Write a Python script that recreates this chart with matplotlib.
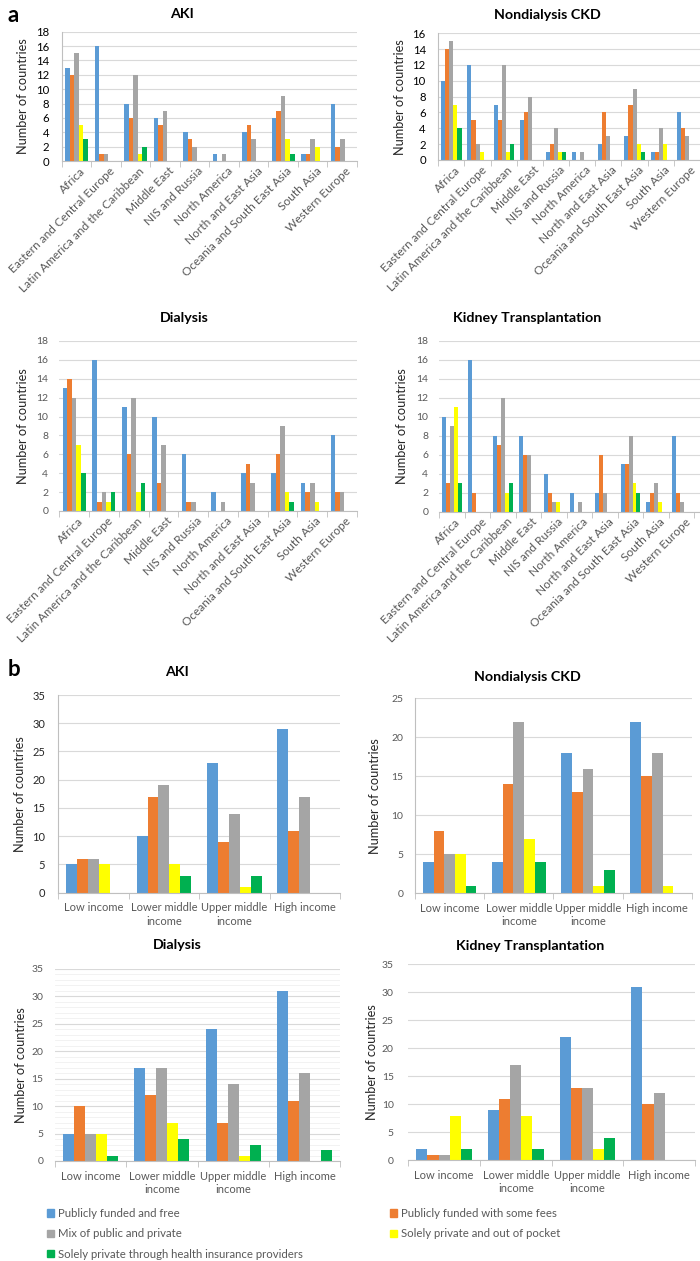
import numpy as np
import matplotlib.pyplot as plt
from matplotlib.patches import Patch
from matplotlib.ticker import MultipleLocator
from matplotlib.transforms import ScaledTranslation

plt.rcParams['font.family'] = ['Lato', 'DejaVu Sans']

W, H = 700, 1261

regions = ['Africa', 'Eastern and Central Europe', 'Latin America and the Caribbean', 'Middle East',
           'NIS and Russia', 'North America', 'North and East Asia', 'Oceania and South East Asia',
           'South Asia', 'Western Europe']
incomes = ['Low income', 'Lower middle\nincome', 'Upper middle\nincome', 'High income']
series = ['Publicly funded and free', 'Publicly funded with some fees', 'Mix of public and private',
          'Solely private and out of pocket', 'Solely private through health insurance providers']
colors = ['#5B9BD5', '#ED7D31', '#A5A5A5', '#FFFF00', '#00B050']

# one row per category: free, some fees, mix, out of pocket, insurance
aki_region = [[13, 12, 15, 5, 3], [16, 1, 1, 0, 0], [8, 6, 12, 1, 2], [6, 5, 7, 0, 0], [4, 3, 2, 0, 0],
              [1, 0, 1, 0, 0], [4, 5, 3, 0, 0], [6, 7, 9, 3, 1], [1, 1, 3, 2, 0], [8, 2, 3, 0, 0]]
ckd_region = [[10, 14, 15, 7, 4], [12, 5, 2, 1, 0], [7, 5, 12, 1, 2], [5, 6, 8, 0, 0], [1, 2, 4, 1, 1],
              [1, 0, 1, 0, 0], [2, 6, 3, 0, 0], [3, 7, 9, 2, 1], [1, 1, 4, 2, 0], [6, 4, 3, 0, 0]]
dial_region = [[13, 14, 12, 7, 4], [16, 1, 2, 1, 2], [11, 6, 12, 2, 3], [10, 3, 7, 0, 0], [6, 1, 1, 0, 0],
               [2, 0, 1, 0, 0], [4, 5, 3, 0, 0], [4, 6, 9, 2, 1], [3, 2, 3, 1, 0], [8, 2, 2, 0, 0]]
kt_region = [[10, 3, 9, 11, 3], [16, 2, 0, 0, 0], [8, 7, 12, 2, 3], [8, 6, 6, 0, 0], [4, 2, 1, 1, 0],
             [2, 0, 1, 0, 0], [2, 6, 2, 0, 0], [5, 5, 8, 3, 2], [1, 2, 3, 1, 0], [8, 2, 1, 0, 0]]

aki_income = [[5, 6, 6, 5, 0], [10, 17, 19, 5, 3], [23, 9, 14, 1, 3], [29, 11, 17, 0, 0]]
ckd_income = [[4, 8, 5, 5, 1], [4, 14, 22, 7, 4], [18, 13, 16, 1, 3], [22, 15, 18, 1, 0]]
dial_income = [[5, 10, 5, 5, 1], [17, 12, 17, 7, 4], [24, 7, 14, 1, 3], [31, 11, 16, 0, 2]]
kt_income = [[2, 1, 1, 8, 2], [9, 11, 17, 8, 2], [22, 13, 13, 2, 4], [31, 10, 12, 0, 0]]

fig = plt.figure(figsize=(W / 100, H / 100), dpi=100)


def panel(data, cats, left, cat_w, right, top, bottom, ymax, ystep, title, tx, ty, lx,
          tick_color='#595959', tick_size=7.5, ypad=8.5, left_spine=False, minor_grid=False, rotate=False):
    ax = fig.add_axes([left / W, 1 - bottom / H, (right - left) / W, (bottom - top) / H])
    vals = np.array(data)
    n = len(cats)
    x = np.arange(n)
    bw = 0.155
    for j in range(5):
        ax.bar(x + (j - 2) * bw, vals[:, j], bw, color=colors[j], zorder=2)
    ax.set_xlim(-0.5, -0.5 + (right - left) / cat_w)
    ax.set_ylim(0, ymax)
    ax.set_yticks(np.arange(0, ymax + 0.1, ystep))
    ax.yaxis.grid(True, color='#D9D9D9', lw=0.8)
    if minor_grid:
        ax.yaxis.set_minor_locator(MultipleLocator(1))
        ax.yaxis.grid(True, which='minor', color='#F0F0F0', lw=0.6)
    ax.set_axisbelow(True)
    for s in ['top', 'right']:
        ax.spines[s].set_visible(False)
    ax.spines['left'].set_visible(left_spine)
    ax.spines['left'].set_color('#BFBFBF')
    ax.spines['bottom'].set_color('#BFBFBF')
    ax.tick_params(axis='y', which='both', length=0, pad=ypad, labelsize=tick_size, labelcolor=tick_color)
    ax.set_xticks(x)
    ax.set_xticks(np.arange(n + 1) - 0.5, minor=True)
    ax.tick_params(axis='x', which='minor', length=4, color='#BFBFBF')
    if rotate:
        ax.set_xticklabels(cats, rotation=45, ha='right', va='center', rotation_mode='anchor')
        ax.tick_params(axis='x', which='major', length=0, pad=6, labelsize=8.6, labelcolor='#595959')
        shift = ScaledTranslation(5 / 72, 0, fig.dpi_scale_trans)
        for lab in ax.get_xticklabels():
            lab.set_transform(lab.get_transform() + shift)
    else:
        ax.set_xticklabels(cats, linespacing=1.25)
        ax.tick_params(axis='x', which='major', length=0, pad=7, labelsize=8, labelcolor='#595959')
    fig.text(tx / W, 1 - ty / H, title, ha='center', va='center', fontsize=10.3, fontweight='bold')
    fig.text(lx / W, 1 - (top + bottom) / 2 / H, 'Number of countries', rotation=90,
             ha='center', va='center', fontsize=9.2, color='#262626')
    return ax


# panel a, by region
panel(aki_region, regions, 61.7, 29.7, 357, 31.7, 161, 18, 2, 'AKI', 182, 14, 23,
      tick_color='#000000', tick_size=8.2, ypad=9, left_spine=True, rotate=True)
panel(ckd_region, regions, 438.3, 26.3, 700, 33.3, 160, 16, 2, 'Nondialysis CKD', 547, 15, 400,
      tick_color='#000000', tick_size=8.2, ypad=9, left_spine=True, rotate=True)
panel(dial_region, regions, 59.3, 30, 357, 341, 511, 18, 2, 'Dialysis', 184, 318, 23, ypad=8, rotate=True)
panel(kt_region, regions, 439.3, 25.5, 700, 340.7, 511.7, 18, 2, 'Kidney Transplantation', 527, 318, 402,
      ypad=8, rotate=True)

# panel b, by income
panel(aki_income, incomes, 58.3, 70.5, 340, 695, 892.7, 35, 5, 'AKI', 177, 672, 20,
      tick_color='#262626', tick_size=8, ypad=9.5, left_spine=True)
panel(ckd_income, incomes, 415, 69.2, 692, 698.3, 893.3, 25, 5, 'Nondialysis CKD', 527, 677, 375,
      ypad=8.5, left_spine=True)
panel(dial_income, incomes, 55, 71.3, 340, 969, 1161, 35, 5, 'Dialysis', 177, 945, 21, ypad=8.5,
      minor_grid=True)
panel(kt_income, incomes, 408.3, 71.7, 695, 964.3, 1160.3, 35, 5, 'Kidney Transplantation', 530, 946, 372,
      ypad=10.5)

fig.text(8 / W, 1 - 15 / H, 'a', fontsize=16, fontweight='bold', va='center')
fig.text(8 / W, 1 - 670 / H, 'b', fontsize=16, fontweight='bold', va='center')

handles = [Patch(color=c, label=s) for c, s in zip(colors, series)]
legend_kw = dict(frameon=False, fontsize=8.2, handlelength=0.6, handleheight=0.6, handletextpad=0.4,
                 labelspacing=0.82, borderaxespad=0, borderpad=0, labelcolor='#595959')
fig.legend(handles=[handles[0], handles[2], handles[4]], loc='upper left',
           bbox_to_anchor=(47 / W, 1 - 1208 / H), **legend_kw)
fig.legend(handles=[handles[1], handles[3]], loc='upper left',
           bbox_to_anchor=(390 / W, 1 - 1208 / H), **legend_kw)

fig.savefig('out.png', dpi=100)
